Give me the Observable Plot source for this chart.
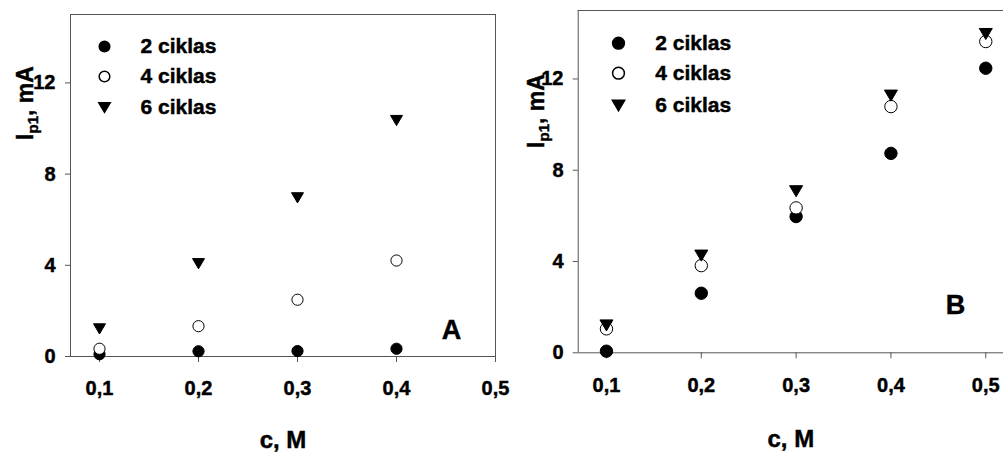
<!DOCTYPE html>
<html>
<head>
<meta charset="utf-8">
<script src="https://cdn.jsdelivr.net/npm/d3@7"></script>
<script src="https://cdn.jsdelivr.net/npm/@observablehq/plot@0.6"></script>
<style>
  html, body { margin: 0; padding: 0; background: #fff; }
  #wrap { position: relative; width: 1003px; height: 452px; overflow: hidden; }
  .panel { position: absolute; top: 0; }
  .panel svg { overflow: visible; background: transparent !important; max-width: none !important; }
  .panel svg text { stroke: black; stroke-width: 0.45px; }
</style>
</head>
<body>
<div id="wrap">
  <div id="pa" class="panel" style="left:0px;width:500px;"></div>
  <div id="pb" class="panel" style="left:500px;width:503px;"></div>
</div>
<script>
// ---- data ----
const concA = [0.1, 0.2, 0.3, 0.4];
const concB = [0.1, 0.2, 0.3, 0.4, 0.5];
const seriesNames = ["2 ciklas", "4 ciklas", "6 ciklas"];
const A_c2 = [0.1, 0.23, 0.24, 0.34];
const A_c4 = [0.34, 1.33, 2.49, 4.21];
const A_c6 = [1.21, 4.07, 6.96, 10.35];
const B_c2 = [0.07, 2.61, 5.97, 8.74, 12.47];
const B_c4 = [1.05, 3.82, 6.35, 10.79, 13.64];
const B_c6 = [1.2, 4.26, 7.08, 11.27, 13.97];
const yTicks = [0, 4, 8, 12];
const xTicks = [0.1, 0.2, 0.3, 0.4, 0.5];
const xAxisTitle = "c, M";

// ---- symbols ----
const triDown = {
  draw(context, size) {
    const r = Math.sqrt(size / Math.PI);
    const h = r * 0.85;
    context.moveTo(-r, -h);
    context.lineTo(r, -h);
    context.lineTo(0, h);
    context.closePath();
  }
};
const styles = [
  {symbol: "circle", fill: "black", stroke: "black"},
  {symbol: "circle", fill: "white", stroke: "black"},
  {symbol: triDown, fill: "black", stroke: "black"}
];

const fmt = d => d3.format(".1f")(d).replace(".", ",");
const FONT = "'Liberation Sans', Arial, sans-serif";
const TICKFONT = 20;

function panel(cfg) {
  const {conc, series, xDomain, width, marginLeft, marginRight, marginTop, marginBottom,
         circleR, triR, legendDx, legendTextDx, legendDy, letter, letterDx, letterDy,
         titleDy, rightFrame, xLabelDy, yLabelDx} = cfg;
  const marks = [];
  // frame lines
  marks.push(Plot.ruleY([15], {stroke: "#555", strokeWidth: 1}));
  marks.push(Plot.ruleY([0], {stroke: "#555", strokeWidth: 1}));
  marks.push(Plot.ruleX([xDomain[0]], {stroke: "#555", strokeWidth: 1}));
  if (rightFrame) marks.push(Plot.ruleX([xDomain[1]], {stroke: "#555", strokeWidth: 1}));
  // axes (ticks only; labels drawn as text marks below)
  marks.push(Plot.axisY({ticks: yTicks, tickSize: 5, stroke: "#555", label: null, tickFormat: () => ""}));
  marks.push(Plot.axisX({ticks: xTicks, tickSize: 6, stroke: "#555", label: null, tickFormat: () => ""}));
  marks.push(Plot.text(xTicks, {x: d => d, frameAnchor: "bottom", dy: xLabelDy, text: fmt,
    fontSize: TICKFONT, fontWeight: "bold", lineAnchor: "middle", fill: "black"}));
  marks.push(Plot.text(yTicks, {y: d => d, frameAnchor: "left", dx: yLabelDx, text: d => String(d),
    fontSize: TICKFONT, fontWeight: "bold", lineAnchor: "middle", textAnchor: "end", fill: "black"}));
  // data
  series.forEach((vals, i) => {
    const data = conc.map((c, j) => ({c, v: vals[j]}));
    const s = styles[i];
    marks.push(Plot.dot(data, {x: "c", y: "v", symbol: () => s.symbol, r: i === 2 ? triR : circleR,
      fill: s.fill, stroke: s.stroke, strokeWidth: 1}));
  });
  // legend
  seriesNames.forEach((name, i) => {
    const s = styles[i];
    marks.push(Plot.dot([name], {frameAnchor: "top-left", dx: legendDx, dy: legendDy[i],
      symbol: () => s.symbol, r: i === 2 ? triR * 0.95 : circleR * 0.95, fill: s.fill, stroke: s.stroke}));
    marks.push(Plot.text([name], {frameAnchor: "top-left", dx: legendTextDx, dy: legendDy[i],
      text: d => d, textAnchor: "start", lineAnchor: "middle", fontSize: 21, fontWeight: "bold", fill: "black"}));
  });
  // panel letter
  marks.push(Plot.text([letter], {frameAnchor: "bottom-right", dx: letterDx, dy: letterDy, text: d => d,
    fontSize: 27, fontWeight: "bold", lineAnchor: "middle", textAnchor: "middle"}));
  // x title
  marks.push(Plot.text([xAxisTitle], {frameAnchor: "bottom", dy: titleDy, text: d => d,
    fontSize: 24, fontWeight: "bold", lineAnchor: "middle"}));

  return Plot.plot({
    width, height: 452, marginLeft, marginRight, marginTop, marginBottom,
    style: {fontFamily: FONT, fontSize: "20px", color: "black", background: "transparent", overflow: "visible"},
    x: {domain: xDomain},
    y: {domain: [0, 15]},
    marks
  });
}

function addYTitle(svg, cx, cy) {
  const t = d3.select(svg).append("text")
    .attr("transform", `translate(${cx},${cy}) rotate(-90)`)
    .attr("text-anchor", "middle")
    .attr("font-family", FONT)
    .attr("font-weight", "bold")
    .attr("font-size", 23)
    .attr("dy", "0.35em")
    .attr("fill", "black");
  t.append("tspan").text("I");
  t.append("tspan").attr("font-size", 15).attr("dy", 5).text("p1");
  t.append("tspan").attr("dy", -5).text(", mA");
}

const svgA = panel({
  conc: concA, series: [A_c2, A_c4, A_c6], xDomain: [0.0707, 0.5], width: 500,
  marginLeft: 70, marginRight: 5, marginTop: 14, marginBottom: 96,
  circleR: 5.6, triR: 6, legendDx: 34, legendTextDx: 70, legendDy: [32, 62, 93],
  letter: "A", letterDx: -44, letterDy: -26, titleDy: 84, rightFrame: true,
  xLabelDy: 32, yLabelDx: -15
});
addYTitle(svgA, 25, 103);
document.getElementById("pa").appendChild(svgA);

const svgB = panel({
  conc: concB, series: [B_c2, B_c4, B_c6], xDomain: [0.0702, 0.5187], width: 503,
  marginLeft: 77.7, marginRight: 0, marginTop: 10, marginBottom: 99.7,
  circleR: 6.2, triR: 6.5, legendDx: 40.3, legendTextDx: 77, legendDy: [32.7, 62.7, 95],
  letter: "B", letterDx: -48, letterDy: -47, titleDy: 87, rightFrame: false,
  xLabelDy: 33, yLabelDx: -14.7
});
addYTitle(svgB, 36, 111);
document.getElementById("pb").appendChild(svgB);
</script>
</body>
</html>
